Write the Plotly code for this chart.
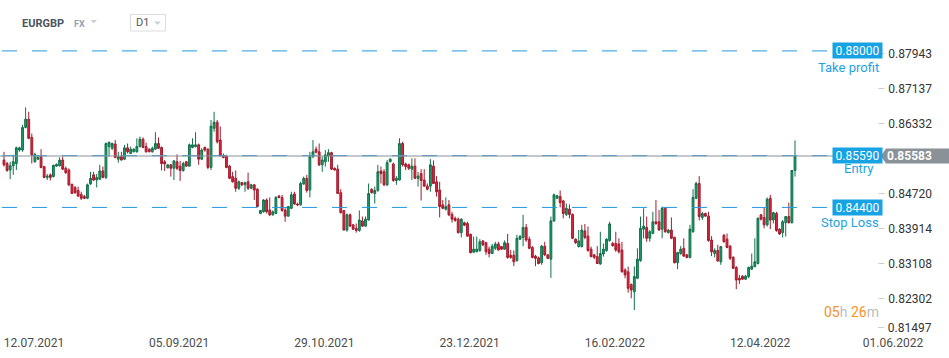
import pandas as pd
import plotly.graph_objects as go

# ---------------- data ----------------
START = "2021-07-12"
END = "2022-05-06"
# xStation daily FX bars: Sunday..Friday (no Saturday bar)
days = [d for d in pd.date_range(START, END, freq="D") if d.weekday() != 5]
bar_time = [d + pd.Timedelta(hours=12) for d in days]

opens = [
    0.8549, 0.8541, 0.8526, 0.8536, 0.8541, 0.8572, 0.8572, 0.8624, 0.8643, 0.8601,
    0.8545, 0.8551, 0.8557, 0.8534, 0.8509, 0.8515, 0.8511, 0.8535, 0.8536, 0.8549,
    0.8530, 0.8526, 0.8493, 0.8486, 0.8479, 0.8470, 0.8465, 0.8461, 0.8494, 0.8515,
    0.8503, 0.8505, 0.8524, 0.8509, 0.8580, 0.8576, 0.8586, 0.8551, 0.8557, 0.8551,
    0.8577, 0.8564, 0.8568, 0.8568, 0.8580, 0.8597, 0.8580, 0.8574, 0.8568, 0.8574,
    0.8587, 0.8578, 0.8545, 0.8531, 0.8538, 0.8530, 0.8545, 0.8535, 0.8525, 0.8545,
    0.8535, 0.8578, 0.8580, 0.8584, 0.8551, 0.8578, 0.8574, 0.8532, 0.8622, 0.8636,
    0.8595, 0.8559, 0.8557, 0.8535, 0.8511, 0.8507, 0.8484, 0.8497, 0.8492, 0.8499,
    0.8484, 0.8492, 0.8482, 0.8426, 0.8430, 0.8457, 0.8434, 0.8423, 0.8426, 0.8466,
    0.8463, 0.8434, 0.8420, 0.8438, 0.8471, 0.8448, 0.8446, 0.8494, 0.8507, 0.8480,
    0.8557, 0.8574, 0.8568, 0.8538, 0.8545, 0.8558, 0.8566, 0.8530, 0.8528, 0.8474,
    0.8433, 0.8388, 0.8423, 0.8400, 0.8392, 0.8387, 0.8409, 0.8397, 0.8411, 0.8482,
    0.8472, 0.8479, 0.8524, 0.8522, 0.8492, 0.8545, 0.8540, 0.8502, 0.8503, 0.8587,
    0.8540, 0.8538, 0.8528, 0.8535, 0.8507, 0.8518, 0.8503, 0.8489, 0.8489, 0.8535,
    0.8499, 0.8480, 0.8446, 0.8436, 0.8446, 0.8424, 0.8415, 0.8413, 0.8382, 0.8405,
    0.8403, 0.8378, 0.8337, 0.8338, 0.8341, 0.8363, 0.8359, 0.8344, 0.8334, 0.8346,
    0.8356, 0.8350, 0.8344, 0.8357, 0.8330, 0.8330, 0.8318, 0.8367, 0.8371, 0.8394,
    0.8367, 0.8348, 0.8328, 0.8324, 0.8313, 0.8351, 0.8331, 0.8321, 0.8409, 0.8461,
    0.8465, 0.8455, 0.8424, 0.8436, 0.8424, 0.8367, 0.8350, 0.8350, 0.8386, 0.8374,
    0.8344, 0.8331, 0.8327, 0.8310, 0.8333, 0.8341, 0.8364, 0.8357, 0.8357, 0.8356,
    0.8342, 0.8296, 0.8292, 0.8263, 0.8246, 0.8277, 0.8318, 0.8390, 0.8394, 0.8369,
    0.8380, 0.8407, 0.8407, 0.8390, 0.8438, 0.8382, 0.8388, 0.8371, 0.8313, 0.8334,
    0.8346, 0.8331, 0.8325, 0.8384, 0.8461, 0.8495, 0.8417, 0.8426, 0.8420, 0.8365,
    0.8334, 0.8341, 0.8315, 0.8376, 0.8367, 0.8351, 0.8325, 0.8302, 0.8277, 0.8282,
    0.8275, 0.8281, 0.8298, 0.8304, 0.8311, 0.8423, 0.8417, 0.8400, 0.8461, 0.8411,
    0.8426, 0.8390, 0.8382, 0.8405, 0.8419, 0.8405, 0.8525,
]
highs = [
    0.8568, 0.8545, 0.8545, 0.8561, 0.8580, 0.8580, 0.8630, 0.8670, 0.8660, 0.8610,
    0.8566, 0.8561, 0.8574, 0.8535, 0.8517, 0.8518, 0.8538, 0.8541, 0.8555, 0.8557,
    0.8534, 0.8530, 0.8495, 0.8489, 0.8488, 0.8476, 0.8469, 0.8495, 0.8522, 0.8522,
    0.8517, 0.8538, 0.8534, 0.8589, 0.8591, 0.8589, 0.8595, 0.8568, 0.8568, 0.8584,
    0.8587, 0.8580, 0.8576, 0.8599, 0.8603, 0.8601, 0.8589, 0.8576, 0.8580, 0.8613,
    0.8601, 0.8580, 0.8549, 0.8539, 0.8540, 0.8549, 0.8562, 0.8547, 0.8545, 0.8547,
    0.8587, 0.8599, 0.8613, 0.8587, 0.8576, 0.8580, 0.8576, 0.8641, 0.8660, 0.8641,
    0.8626, 0.8564, 0.8561, 0.8538, 0.8522, 0.8525, 0.8502, 0.8499, 0.8499, 0.8520,
    0.8494, 0.8494, 0.8484, 0.8434, 0.8459, 0.8461, 0.8463, 0.8433, 0.8466, 0.8469,
    0.8469, 0.8438, 0.8443, 0.8476, 0.8476, 0.8451, 0.8499, 0.8511, 0.8515, 0.8568,
    0.8595, 0.8580, 0.8587, 0.8557, 0.8572, 0.8574, 0.8568, 0.8532, 0.8538, 0.8482,
    0.8434, 0.8426, 0.8426, 0.8402, 0.8403, 0.8433, 0.8419, 0.8419, 0.8495, 0.8484,
    0.8488, 0.8538, 0.8534, 0.8528, 0.8549, 0.8553, 0.8543, 0.8512, 0.8599, 0.8591,
    0.8543, 0.8541, 0.8553, 0.8553, 0.8522, 0.8528, 0.8528, 0.8495, 0.8551, 0.8548,
    0.8512, 0.8499, 0.8457, 0.8463, 0.8457, 0.8430, 0.8419, 0.8417, 0.8415, 0.8407,
    0.8407, 0.8380, 0.8373, 0.8373, 0.8367, 0.8365, 0.8361, 0.8350, 0.8356, 0.8361,
    0.8361, 0.8351, 0.8364, 0.8379, 0.8342, 0.8341, 0.8377, 0.8377, 0.8423, 0.8402,
    0.8373, 0.8351, 0.8331, 0.8327, 0.8354, 0.8361, 0.8333, 0.8419, 0.8472, 0.8469,
    0.8479, 0.8457, 0.8449, 0.8447, 0.8426, 0.8369, 0.8388, 0.8400, 0.8402, 0.8396,
    0.8350, 0.8333, 0.8351, 0.8384, 0.8357, 0.8369, 0.8407, 0.8361, 0.8384, 0.8369,
    0.8361, 0.8300, 0.8304, 0.8265, 0.8304, 0.8346, 0.8419, 0.8438, 0.8419, 0.8388,
    0.8430, 0.8457, 0.8434, 0.8442, 0.8440, 0.8390, 0.8417, 0.8373, 0.8338, 0.8351,
    0.8369, 0.8333, 0.8400, 0.8482, 0.8499, 0.8512, 0.8430, 0.8428, 0.8430, 0.8374,
    0.8346, 0.8354, 0.8351, 0.8379, 0.8380, 0.8354, 0.8328, 0.8305, 0.8285, 0.8284,
    0.8285, 0.8304, 0.8334, 0.8369, 0.8417, 0.8425, 0.8440, 0.8463, 0.8469, 0.8430,
    0.8430, 0.8392, 0.8411, 0.8420, 0.8451, 0.8526, 0.8594,
]
lows = [
    0.8534, 0.8522, 0.8505, 0.8515, 0.8526, 0.8568, 0.8568, 0.8622, 0.8597, 0.8541,
    0.8543, 0.8549, 0.8530, 0.8507, 0.8503, 0.8502, 0.8509, 0.8534, 0.8534, 0.8526,
    0.8517, 0.8489, 0.8471, 0.8471, 0.8465, 0.8457, 0.8459, 0.8459, 0.8492, 0.8501,
    0.8486, 0.8503, 0.8507, 0.8505, 0.8557, 0.8572, 0.8553, 0.8543, 0.8548, 0.8549,
    0.8564, 0.8563, 0.8567, 0.8566, 0.8578, 0.8576, 0.8566, 0.8567, 0.8566, 0.8572,
    0.8574, 0.8525, 0.8524, 0.8530, 0.8511, 0.8503, 0.8526, 0.8501, 0.8522, 0.8534,
    0.8534, 0.8576, 0.8578, 0.8538, 0.8549, 0.8568, 0.8528, 0.8526, 0.8614, 0.8587,
    0.8557, 0.8553, 0.8530, 0.8505, 0.8497, 0.8476, 0.8480, 0.8489, 0.8476, 0.8480,
    0.8482, 0.8457, 0.8440, 0.8425, 0.8428, 0.8426, 0.8420, 0.8421, 0.8425, 0.8461,
    0.8430, 0.8407, 0.8419, 0.8436, 0.8446, 0.8443, 0.8444, 0.8492, 0.8474, 0.8463,
    0.8553, 0.8564, 0.8535, 0.8522, 0.8534, 0.8545, 0.8526, 0.8525, 0.8471, 0.8426,
    0.8387, 0.8384, 0.8396, 0.8388, 0.8382, 0.8384, 0.8396, 0.8396, 0.8410, 0.8472,
    0.8449, 0.8476, 0.8495, 0.8489, 0.8489, 0.8544, 0.8499, 0.8492, 0.8502, 0.8534,
    0.8526, 0.8526, 0.8503, 0.8505, 0.8488, 0.8456, 0.8488, 0.8479, 0.8476, 0.8494,
    0.8465, 0.8417, 0.8436, 0.8433, 0.8420, 0.8405, 0.8407, 0.8380, 0.8371, 0.8397,
    0.8373, 0.8334, 0.8336, 0.8337, 0.8338, 0.8351, 0.8331, 0.8325, 0.8333, 0.8342,
    0.8341, 0.8342, 0.8342, 0.8322, 0.8322, 0.8305, 0.8315, 0.8365, 0.8351, 0.8361,
    0.8344, 0.8323, 0.8305, 0.8309, 0.8308, 0.8328, 0.8321, 0.8278, 0.8407, 0.8459,
    0.8440, 0.8415, 0.8420, 0.8415, 0.8367, 0.8356, 0.8348, 0.8348, 0.8367, 0.8338,
    0.8325, 0.8321, 0.8310, 0.8308, 0.8327, 0.8338, 0.8361, 0.8350, 0.8338, 0.8334,
    0.8290, 0.8277, 0.8244, 0.8231, 0.8204, 0.8275, 0.8315, 0.8369, 0.8361, 0.8361,
    0.8379, 0.8400, 0.8387, 0.8369, 0.8382, 0.8380, 0.8367, 0.8311, 0.8298, 0.8331,
    0.8327, 0.8323, 0.8323, 0.8382, 0.8459, 0.8410, 0.8411, 0.8419, 0.8361, 0.8328,
    0.8325, 0.8315, 0.8308, 0.8359, 0.8346, 0.8319, 0.8298, 0.8252, 0.8264, 0.8273,
    0.8273, 0.8277, 0.8296, 0.8302, 0.8309, 0.8410, 0.8392, 0.8396, 0.8390, 0.8403,
    0.8384, 0.8377, 0.8371, 0.8373, 0.8403, 0.8403, 0.8511,
]
closes = [
    0.8538, 0.8525, 0.8536, 0.8545, 0.8577, 0.8577, 0.8624, 0.8643, 0.8599, 0.8561,
    0.8562, 0.8555, 0.8532, 0.8509, 0.8512, 0.8509, 0.8537, 0.8539, 0.8549, 0.8528,
    0.8520, 0.8492, 0.8472, 0.8474, 0.8466, 0.8461, 0.8461, 0.8492, 0.8507, 0.8503,
    0.8509, 0.8524, 0.8509, 0.8587, 0.8590, 0.8587, 0.8555, 0.8557, 0.8549, 0.8577,
    0.8568, 0.8574, 0.8574, 0.8580, 0.8597, 0.8578, 0.8568, 0.8568, 0.8576, 0.8587,
    0.8576, 0.8541, 0.8540, 0.8538, 0.8530, 0.8547, 0.8530, 0.8525, 0.8541, 0.8535,
    0.8584, 0.8584, 0.8584, 0.8551, 0.8572, 0.8572, 0.8532, 0.8627, 0.8636, 0.8591,
    0.8559, 0.8555, 0.8532, 0.8507, 0.8499, 0.8484, 0.8499, 0.8492, 0.8497, 0.8484,
    0.8492, 0.8480, 0.8442, 0.8433, 0.8457, 0.8430, 0.8423, 0.8430, 0.8463, 0.8463,
    0.8433, 0.8420, 0.8442, 0.8469, 0.8448, 0.8446, 0.8495, 0.8507, 0.8479, 0.8557,
    0.8568, 0.8567, 0.8538, 0.8549, 0.8561, 0.8566, 0.8528, 0.8526, 0.8472, 0.8428,
    0.8388, 0.8423, 0.8397, 0.8390, 0.8387, 0.8411, 0.8397, 0.8413, 0.8472, 0.8474,
    0.8479, 0.8522, 0.8518, 0.8492, 0.8543, 0.8551, 0.8502, 0.8507, 0.8587, 0.8538,
    0.8534, 0.8530, 0.8535, 0.8507, 0.8512, 0.8502, 0.8489, 0.8482, 0.8538, 0.8495,
    0.8476, 0.8442, 0.8438, 0.8442, 0.8423, 0.8413, 0.8410, 0.8382, 0.8413, 0.8399,
    0.8374, 0.8336, 0.8344, 0.8344, 0.8361, 0.8354, 0.8338, 0.8334, 0.8351, 0.8356,
    0.8342, 0.8344, 0.8359, 0.8325, 0.8325, 0.8315, 0.8369, 0.8373, 0.8394, 0.8365,
    0.8346, 0.8325, 0.8323, 0.8311, 0.8351, 0.8331, 0.8323, 0.8409, 0.8469, 0.8467,
    0.8451, 0.8426, 0.8438, 0.8424, 0.8369, 0.8359, 0.8363, 0.8388, 0.8371, 0.8341,
    0.8327, 0.8325, 0.8311, 0.8334, 0.8344, 0.8367, 0.8402, 0.8352, 0.8342, 0.8338,
    0.8292, 0.8285, 0.8254, 0.8250, 0.8281, 0.8321, 0.8392, 0.8397, 0.8369, 0.8384,
    0.8407, 0.8403, 0.8388, 0.8438, 0.8384, 0.8388, 0.8369, 0.8313, 0.8336, 0.8344,
    0.8328, 0.8325, 0.8390, 0.8463, 0.8495, 0.8419, 0.8426, 0.8420, 0.8364, 0.8338,
    0.8341, 0.8317, 0.8350, 0.8361, 0.8348, 0.8323, 0.8300, 0.8273, 0.8273, 0.8275,
    0.8282, 0.8302, 0.8305, 0.8315, 0.8415, 0.8413, 0.8400, 0.8459, 0.8411, 0.8428,
    0.8387, 0.8379, 0.8407, 0.8419, 0.8405, 0.8525, 0.8558,
]

tick_dates = ["2021-07-12", "2021-09-05", "2021-10-29", "2021-12-23",
              "2022-02-16", "2022-04-12", "2022-06-01"]
tick_labels = ["12.07.2021", "05.09.2021", "29.10.2021", "23.12.2021",
               "16.02.2022", "12.04.2022", "01.06.2022"]

price_ticks = [0.82302, 0.83108, 0.83914, 0.84720, 0.86332, 0.87137, 0.87943]
bottom_price_label = 0.81497  # drawn lifted above the bottom edge, as in xStation

take_profit = 0.88000
entry = 0.85590
stop_loss = 0.84400
last_price = 0.85583

symbol = "EURGBP"
market = "FX"
timeframe = "D1"
countdown = ("05", "26")

# ---------------- layout constants ----------------
W, H = 949, 358
PLOT_H = 334  # plot area height in px (bottom margin 24)


def px_x(p):
    return p / W


def px_y(p):
    return (PLOT_H - p) / PLOT_H


BLUE = "#17a2e4"
DASH_BLUE = "#2299e0"
GREEN_FILL, GREEN_LINE = "#1c9d69", "#11704a"
RED_FILL, RED_LINE = "#e0253d", "#a11b2d"

fig = go.Figure()
fig.add_trace(go.Candlestick(
    x=bar_time, open=opens, high=highs, low=lows, close=closes,
    increasing=dict(line=dict(color=GREEN_LINE, width=1), fillcolor=GREEN_FILL),
    decreasing=dict(line=dict(color=RED_LINE, width=1), fillcolor=RED_FILL),
    whiskerwidth=0, showlegend=False, hoverinfo="skip",
))

shapes = []
# dashed level lines
for lvl in (take_profit, entry, stop_loss):
    shapes.append(dict(type="line", xref="paper", yref="y", x0=px_x(2), x1=px_x(830),
                       y0=lvl, y1=lvl, line=dict(color=DASH_BLUE, width=1, dash="15px,15px")))
# current price line
shapes.append(dict(type="line", xref="paper", yref="y", x0=0, x1=px_x(882),
                   y0=last_price, y1=last_price, line=dict(color="#8b9196", width=1)))
# current price box (with arrow)
shapes.append(dict(type="path", xref="paper", xsizemode="pixel", xanchor=1,
                   yref="y", ysizemode="pixel", yanchor=last_price,
                   path="M -68 0 L -63 7.5 L 0 7.5 L 0 -7.5 L -63 -7.5 Z",
                   fillcolor="#8a9297", line=dict(width=0)))
# header: dropdown triangles and D1 box
shapes.append(dict(type="path", xref="paper", xsizemode="pixel", xanchor=0,
                   yref="paper", ysizemode="pixel", yanchor=1,
                   path="M 90.5 -20 L 97 -20 L 93.75 -23.5 Z",
                   fillcolor="#cfcfcf", line=dict(width=0)))
shapes.append(dict(type="rect", xref="paper", xsizemode="pixel", xanchor=0,
                   x0=130.5, x1=165.5, yref="paper", ysizemode="pixel", yanchor=1,
                   y0=-14.5, y1=-31, line=dict(color="#dcdcdc", width=1),
                   fillcolor="rgba(0,0,0,0)"))
shapes.append(dict(type="path", xref="paper", xsizemode="pixel", xanchor=0,
                   yref="paper", ysizemode="pixel", yanchor=1,
                   path="M 154 -21.5 L 161 -21.5 L 157.5 -25 Z",
                   fillcolor="#cfcfcf", line=dict(width=0)))

ann = []
# level boxes
for lvl in (take_profit, entry, stop_loss):
    ann.append(dict(xref="paper", yref="y", x=px_x(857.5), y=lvl, text=f"{lvl:.5f}",
                    showarrow=False, xanchor="center", yanchor="middle",
                    font=dict(color="white", size=12), bgcolor=BLUE,
                    width=45, height=11, borderpad=2))
for txt, yp, xr in (("Take profit", 67.5, 881), ("Entry", 169, 876), ("Stop Loss", 222, 881)):
    ann.append(dict(xref="paper", yref="paper", x=px_x(xr), y=px_y(yp), text=txt,
                    showarrow=False, xanchor="right", yanchor="middle",
                    font=dict(color="#1ea2e2", size=13)))
# current price text
ann.append(dict(xref="paper", yref="y", x=px_x(934), y=last_price,
                text=f"<b>{last_price:.5f}</b>", showarrow=False,
                xanchor="right", yanchor="middle", font=dict(color="white", size=12)))
# lowest price label (lifted above the bottom edge)
ann.append(dict(xref="paper", yref="paper", x=px_x(934), y=px_y(327.5),
                text=f'<span style="color:#cccccc">–</span> {bottom_price_label:.5f}',
                showarrow=False, xanchor="right", yanchor="middle",
                font=dict(color="#333333", size=12)))
# countdown
ann.append(dict(xref="paper", yref="paper", x=px_x(822), y=px_y(312),
                text=(f'<span style="color:#f7931e">{countdown[0]}</span>'
                      f'<span style="color:#bdbdbd">h</span> '
                      f'<span style="color:#f7931e">{countdown[1]}</span>'
                      f'<span style="color:#bdbdbd">m</span>'),
                showarrow=False, xanchor="left", yanchor="middle", font=dict(size=14)))
# header
ann.append(dict(xref="paper", yref="paper", x=px_x(20), y=px_y(23), text=f"<b>{symbol}</b>",
                showarrow=False, xanchor="left", yanchor="middle",
                font=dict(color="#4a5560", size=11)))
ann.append(dict(xref="paper", yref="paper", x=px_x(72), y=px_y(23.5), text=f"<b>{market}</b>",
                showarrow=False, xanchor="left", yanchor="middle",
                font=dict(color="#93a3b0", size=9)))
ann.append(dict(xref="paper", yref="paper", x=px_x(134), y=px_y(22.7), text=timeframe,
                showarrow=False, xanchor="left", yanchor="middle",
                font=dict(color="#555555", size=11)))

tick_text_y = [f'<span style="color:#cccccc">–</span> {v:.5f}' for v in price_ticks]

fig.update_layout(
    width=W, height=H,
    margin=dict(l=0, r=0, t=0, b=H - PLOT_H),
    paper_bgcolor="white", plot_bgcolor="white",
    font=dict(family="Roboto, sans-serif", color="#333333"),
    showlegend=False,
    boxgap=0.15,
    shapes=shapes, annotations=ann,
    xaxis=dict(
        type="date",
        range=["2021-07-11 05:02", "2022-07-04 08:10"],
        rangebreaks=[dict(bounds=["sat", "sun"])],
        rangeslider=dict(visible=False),
        showgrid=False, zeroline=False, showline=False, ticks="",
        tickvals=[pd.Timestamp(d) + pd.Timedelta(hours=12) for d in tick_dates],
        ticktext=tick_labels,
        tickfont=dict(size=12, color="#4d4d4d"),
        ticklabelshift=30,
        fixedrange=True,
    ),
    yaxis=dict(
        side="right",
        range=[0.81489, 0.89171],
        showgrid=False, zeroline=False, showline=False, ticks="",
        tickvals=price_ticks, ticktext=tick_text_y,
        ticklabelposition="inside",
        ticklabelstandoff=14,
        tickfont=dict(size=12, color="#333333"),
        fixedrange=True,
    ),
)

fig.write_html("out.html", config={"displayModeBar": False},
               post_script="document.body.style.margin='0px';")
